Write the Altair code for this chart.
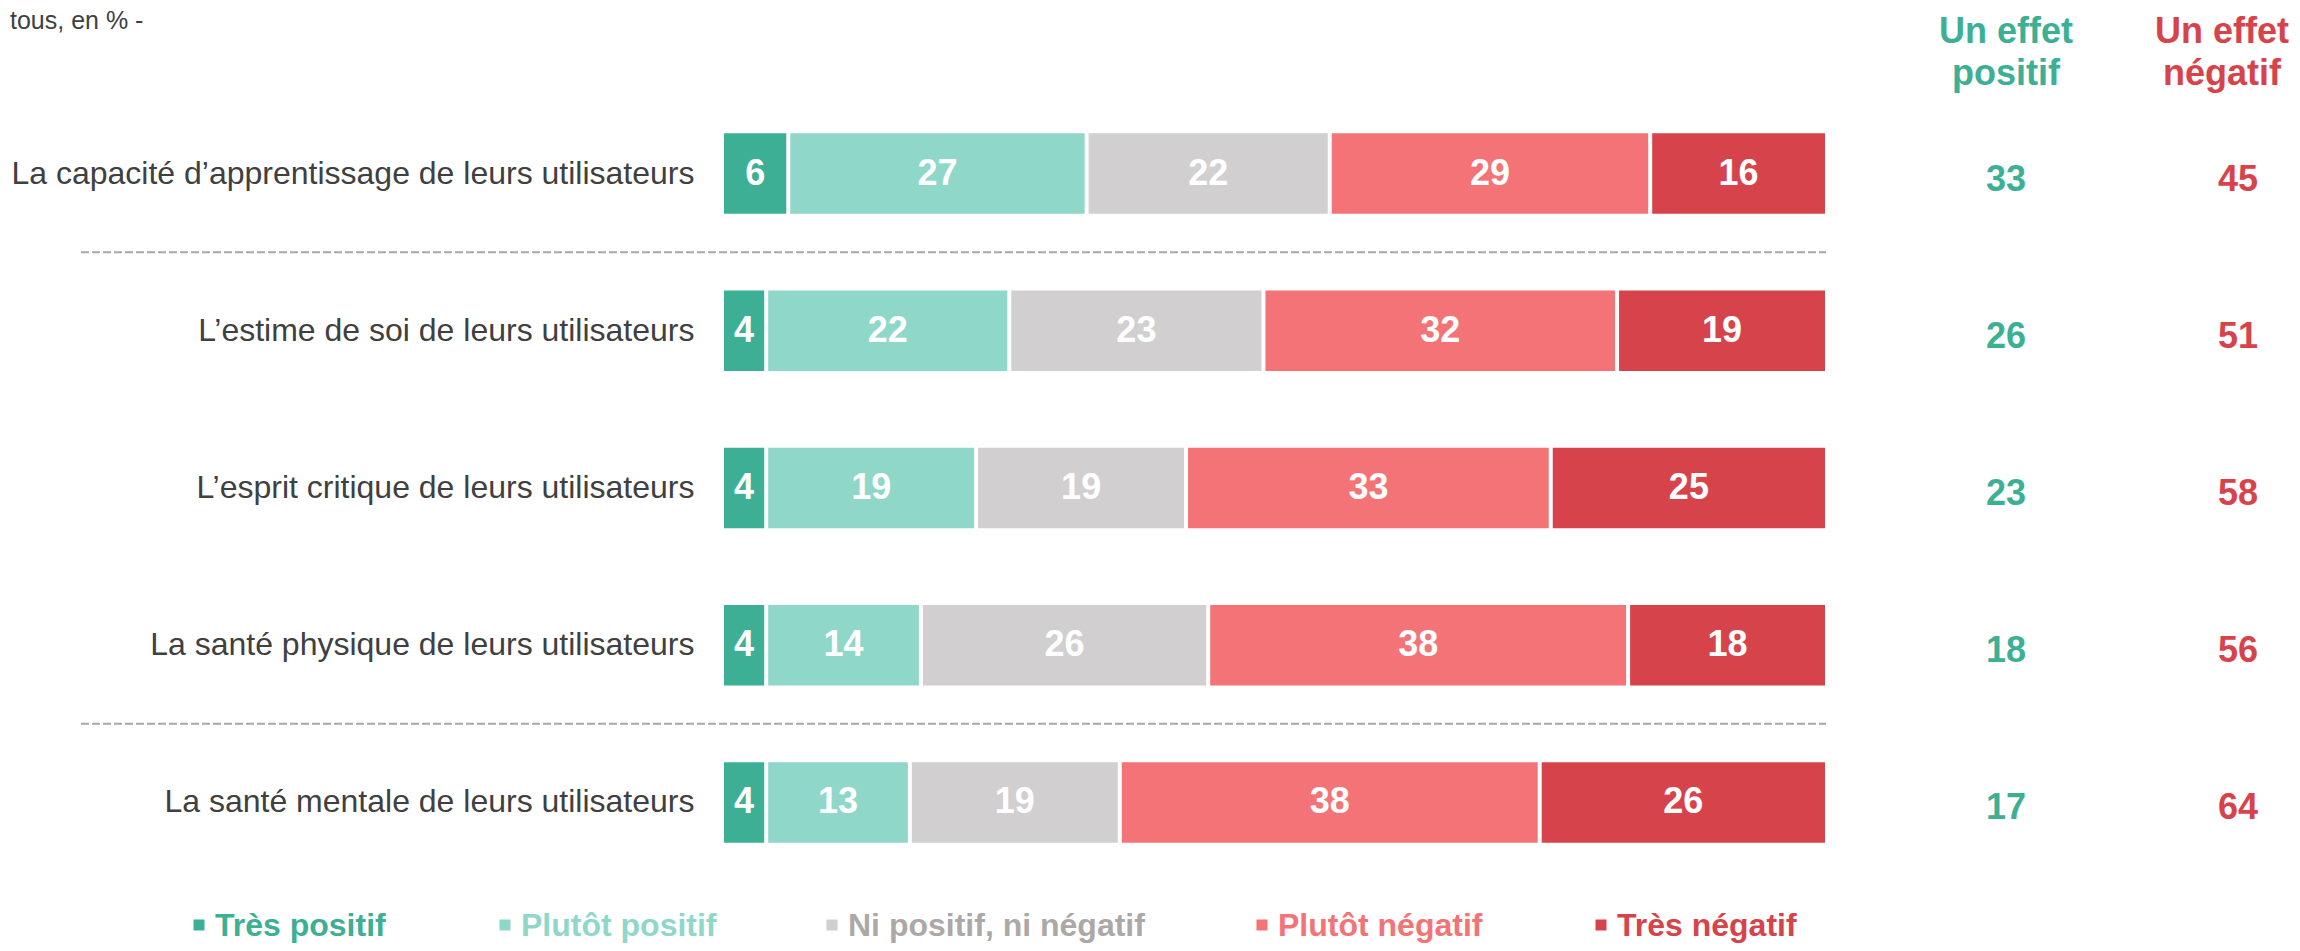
import altair as alt
import pandas as pd

# ---------------- data ----------------
items = [
    "La capacité d’apprentissage de leurs utilisateurs",
    "L’estime de soi de leurs utilisateurs",
    "L’esprit critique de leurs utilisateurs",
    "La santé physique de leurs utilisateurs",
    "La santé mentale de leurs utilisateurs",
]
categories = ["Très positif", "Plutôt positif", "Ni positif, ni négatif", "Plutôt négatif", "Très négatif"]

tres_positif = [6, 4, 4, 4, 4]
plutot_positif = [27, 22, 19, 14, 13]
ni_ni = [22, 23, 19, 26, 19]
plutot_negatif = [29, 32, 33, 38, 38]
tres_negatif = [16, 19, 25, 18, 26]

effet_positif = [33, 26, 23, 18, 17]
effet_negatif = [45, 51, 58, 56, 64]

header_positif = ["Un effet", "positif"]
header_negatif = ["Un effet", "négatif"]
subtitle = "tous, en % -"
separator_before = [items[1], items[4]]

# ---------------- styles / layout ----------------
FONT = "Liberation Sans, Arial, Helvetica, sans-serif"
bar_colors = ["#3daf94", "#8fd7c8", "#d1cfd0", "#f37376", "#d7434b"]
legend_text_colors = ["#3daf94", "#8fd7c8", "#aca8a8", "#f37376", "#d7434b"]
GREEN = "#3daf94"
RED = "#d7434b"
LABEL_COLOR = "#404040"

PLOT_W, PLOT_H = 1105, 786
PAD = {"left": 716, "top": 87, "right": 463, "bottom": 62}

legend_text_x = [-509, -203, 124, 554, 893]
legend_square_gap = 16
legend_baseline = 841
legend_square_y = 830

header_pos_x = 1282
header_neg_x = 1498
num_pos_x = 1282
num_neg_x = 1514
header_baselines = [-52, -10]

series = [tres_positif, plutot_positif, ni_ni, plutot_negatif, tres_negatif]
rows = []
for i, item in enumerate(items):
    start = 0
    for cat, vals in zip(categories, series):
        v = vals[i]
        rows.append({"item": item, "cat": cat, "value": v, "x0": start, "x1": start + v, "mid": start + v / 2})
        start += v
df = pd.DataFrame(rows)

xscale = alt.Scale(domain=[0, 100], nice=False, zero=False)
yscale = alt.Scale(paddingInner=0.488, paddingOuter=0.244)
yaxis = alt.Axis(
    title=None, domain=False, ticks=False, tickSize=0, grid=False,
    labelFont=FONT, labelFontSize=32, labelColor=LABEL_COLOR,
    labelPadding=30, labelLimit=2000,
)

bars = alt.Chart(df).mark_bar(x2Offset=-4).encode(
    x=alt.X("x0:Q", scale=xscale, axis=None),
    x2="x1:Q",
    y=alt.Y("item:N", sort=items, scale=yscale, axis=yaxis),
    color=alt.Color("cat:N", scale=alt.Scale(domain=categories, range=bar_colors), legend=None),
)

bar_text = alt.Chart(df).mark_text(
    xOffset=-2, font=FONT, fontSize=36, fontWeight="bold", color="white", baseline="middle", align="center"
).encode(
    x=alt.X("mid:Q", scale=xscale, axis=None),
    y=alt.Y("item:N", sort=items),
    text="value:Q",
)

rules = alt.Chart(pd.DataFrame({"item": separator_before})).mark_rule(
    yOffset=-78.6, color="#a8a8a8", strokeWidth=2, strokeDash=[8, 3]
).encode(
    y=alt.Y("item:N", sort=items),
    x=alt.value(-643),
    x2=alt.value(1102),
)

pos_nums = alt.Chart(pd.DataFrame({"item": items, "v": effet_positif})).mark_text(
    font=FONT, fontSize=36, fontWeight="bold", color=GREEN, baseline="middle", align="center", dy=6
).encode(y=alt.Y("item:N", sort=items), x=alt.value(num_pos_x), text="v:Q")

neg_nums = alt.Chart(pd.DataFrame({"item": items, "v": effet_negatif})).mark_text(
    font=FONT, fontSize=36, fontWeight="bold", color=RED, baseline="middle", align="center", dy=6
).encode(y=alt.Y("item:N", sort=items), x=alt.value(num_neg_x), text="v:Q")

layers = [bars, bar_text, rules, pos_nums, neg_nums]

for lines, hx, col in [(header_positif, header_pos_x, GREEN), (header_negatif, header_neg_x, RED)]:
    for line, by in zip(lines, header_baselines):
        layers.append(
            alt.Chart(pd.DataFrame({"t": [line]})).mark_text(
                font=FONT, fontSize=36, fontWeight="bold", color=col, align="center", baseline="alphabetic"
            ).encode(text="t:N", x=alt.value(hx), y=alt.value(by))
        )

layers.append(
    alt.Chart(pd.DataFrame({"t": [subtitle]})).mark_text(
        font=FONT, fontSize=25, color=LABEL_COLOR, align="left", baseline="top"
    ).encode(text="t:N", x=alt.value(-714), y=alt.value(-86))
)

for cat, lx, sc, tc in zip(categories, legend_text_x, bar_colors, legend_text_colors):
    layers.append(
        alt.Chart(pd.DataFrame({"t": [cat]})).mark_square(size=121, color=sc, filled=True, opacity=1).encode(
            x=alt.value(lx - legend_square_gap), y=alt.value(legend_square_y)
        )
    )
    layers.append(
        alt.Chart(pd.DataFrame({"t": [cat]})).mark_text(
            font=FONT, fontSize=32, fontWeight="bold", color=tc, align="left", baseline="alphabetic"
        ).encode(text="t:N", x=alt.value(lx), y=alt.value(legend_baseline))
    )

chart = alt.layer(*layers).properties(
    width=PLOT_W,
    height=PLOT_H,
    padding=PAD,
    autosize=alt.AutoSizeParams(type="none"),
    background="white",
).configure_view(stroke=None)

chart.save("out.html", embed_options={"renderer": "svg", "actions": False})
